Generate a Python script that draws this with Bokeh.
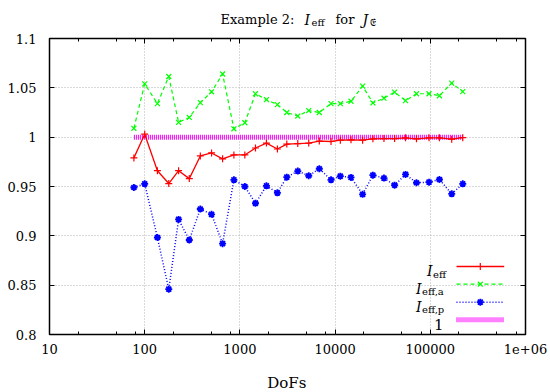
import numpy as np
from bokeh.plotting import figure
from bokeh.layouts import column
from bokeh.models import Range1d, LogAxis, LinearAxis, FixedTicker, Label
from bokeh.embed import file_html
from bokeh.resources import INLINE

# ---------------- data ----------------
dofs = [77, 100, 136, 179, 227, 294, 384, 504, 658, 865, 1127, 1458, 1900, 2477,
        3110, 4055, 5285, 6825, 9060, 11350, 14690, 19450, 24950, 32600, 42170,
        54950, 71600, 97000, 124700, 167900, 219300]
i_eff = [0.979, 1.003, 0.966, 0.953, 0.966, 0.958, 0.981, 0.984, 0.978, 0.982,
         0.982, 0.989, 0.994, 0.988, 0.993, 0.9935, 0.994, 0.996, 0.9956, 0.997,
         0.9973, 0.997, 0.9983, 0.9986, 0.9986, 0.9993, 0.9983, 0.9993, 0.9993,
         0.998, 0.9995]
i_eff_a = [1.009, 1.054, 1.034, 1.0615, 1.015, 1.020, 1.035, 1.046, 1.064, 1.0085,
           1.0146, 1.044, 1.038, 1.033, 1.025, 1.0214, 1.027, 1.025, 1.034, 1.034,
           1.0364, 1.0517, 1.0347, 1.0395, 1.0456, 1.037, 1.044, 1.044, 1.042,
           1.0548, 1.0462]
i_eff_p = [0.949, 0.9527, 0.8983, 0.8459, 0.9166, 0.8958, 0.9272, 0.9218, 0.8921,
           0.9568, 0.95, 0.933, 0.9507, 0.9436, 0.9595, 0.9656, 0.9609, 0.968,
           0.9568, 0.9605, 0.9592, 0.9421, 0.9615, 0.9585, 0.9513, 0.9622, 0.9538,
           0.9544, 0.9571, 0.9426, 0.9527]
one = [1.0] * len(dofs)

x_ticks = [10, 100, 1000, 10000, 100000, 1000000]
x_tick_labels = ["10", "100", "1000", "10000", "100000", "1e+06"]
x_minor = [m * d for d in [10, 100, 1000, 10000, 100000] for m in (2, 5, 8)]
y_ticks = [0.8, 0.85, 0.9, 0.95, 1.0, 1.05, 1.1]
y_tick_labels = ["0.8", "0.85", "0.9", "0.95", "1", "1.05", "1.1"]

# ---------------- layout ----------------
W = 550
HT, HM, HB = 28, 336, 28             # title strip, main plot, x-label strip
FL, FR, FT, FB = 49, 525, 10, 306    # frame inside main plot
X0, X1, Y0, Y1 = 10.0, 1e6, 0.8, 1.1
FONT = "DejaVu Serif"

def fx(px):
    return 10 ** (np.log10(X0) + (px - FL) / (FR - FL) * (np.log10(X1) - np.log10(X0)))

def fy(py):
    return Y1 - (py - FT) / (FB - FT) * (Y1 - Y0)

p = figure(width=W, height=HM, x_axis_type="log", title=None,
           x_range=Range1d(X0, X1), y_range=Range1d(Y0, Y1),
           output_backend="svg", toolbar_location=None,
           min_border_left=FL, min_border_right=W - FR,
           min_border_top=FT, min_border_bottom=HM - FB)
p.background_fill_color = "white"
p.border_fill_color = "white"
p.outline_line_color = "black"
p.outline_line_width = 1.5

xticker = FixedTicker(ticks=x_ticks, minor_ticks=x_minor)
yticker = FixedTicker(ticks=y_ticks, minor_ticks=[])

def style_axis(ax, font=None):
    ax.axis_line_color = None
    ax.major_tick_in = 5
    ax.major_tick_out = 0
    ax.minor_tick_in = 3
    ax.minor_tick_out = 0
    ax.major_tick_line_color = "black"
    ax.minor_tick_line_color = "black"
    if font:
        ax.major_label_text_font = font
        ax.major_label_text_font_size = "13px"
        ax.major_label_text_color = "black"
    else:
        ax.major_label_text_font_size = "1px"
        ax.major_label_text_color = None
        ax.major_label_standoff = 0

top = LogAxis(ticker=xticker)
style_axis(top)
p.add_layout(top, "above")
right = LinearAxis(ticker=yticker)
style_axis(right)
p.add_layout(right, "right")

xa = p.below[0]
xa.ticker = xticker
xa.major_label_overrides = {t: l for t, l in zip(x_ticks, x_tick_labels)}
style_axis(xa, FONT)
xa.major_label_standoff = 9

ya = p.left[0]
ya.ticker = yticker
ya.major_label_overrides = {t: l for t, l in zip(y_ticks, y_tick_labels)}
style_axis(ya, FONT)
ya.major_label_standoff = 13

p.xgrid.ticker = FixedTicker(ticks=x_ticks)
p.ygrid.ticker = yticker
for g in (p.xgrid[0], p.ygrid[0]):
    g.grid_line_color = "#b4b4b4"
    g.grid_line_dash = "1 2"
    g.grid_line_width = 1

RED, GREEN, BLUE, MAG = "#ff0000", "#00ff00", "#0000ff", "#ff00ff"

# ---------------- series ----------------
p.line(dofs, one, color=MAG, line_width=5, line_dash="1 1")
p.line(dofs, i_eff_a, color=GREEN, line_width=1.2, line_dash="4 3")
p.scatter(dofs, i_eff_a, marker="x", size=7, line_color=GREEN, line_width=1.2)
p.line(dofs, i_eff_p, color=BLUE, line_width=1.5, line_dash="1 2")
p.scatter(dofs, i_eff_p, marker="asterisk", size=7, line_color=BLUE, line_width=1.8)
p.line(dofs, i_eff, color=RED, line_width=1.3)
p.scatter(dofs, i_eff, marker="cross", size=7, line_color=RED, line_width=1.2)

# ---------------- legend (drawn by hand, positions in page pixels) ----------------
OFF = HT  # page y -> main-plot y
rows = [266 - OFF, 283.7 - OFF, 301.7 - OFF, 319.3 - OFF]
lx0, lx1, lxm = 456, 503.7, 479.8
styles = [(RED, 1.3, "solid", "cross", 1.2), (GREEN, 1.2, "4 3", "x", 1.2),
          (BLUE, 1.5, "1 2", "asterisk", 1.8)]
for ry, (c, lw, dash, mk, mlw) in zip(rows[:3], styles):
    p.line([fx(lx0), fx(lx1)], [fy(ry), fy(ry)], color=c, line_width=lw, line_dash=dash)
    p.scatter([fx(lxm)], [fy(ry)], marker=mk, size=7, line_color=c, line_width=mlw)
p.line([fx(lx0), fx(lx1)], [fy(rows[3]), fy(rows[3])], color=MAG, line_width=5, line_dash="1 1")

def txt(fig, x, y, s, size="14px", style="normal", align="left", font=FONT):
    fig.add_layout(Label(x=x, y=y, text=s, text_font=font, text_font_size=size,
                         text_font_style=style, text_align=align,
                         text_baseline="alphabetic", text_color="black"))

legend_entries = [("eff", 432), ("eff,a", 421), ("eff,p", 421)]
for ry, (sub, ix) in zip(rows[:3], legend_entries):
    txt(p, fx(ix), fy(ry + 4.5), "I", style="italic", align="right")
    txt(p, fx(ix + 0.5), fy(ry + 7.5), sub, size="10px")
txt(p, fx(443), fy(rows[3] + 5), "1", align="right", size="15px")

# ---------------- title strip and x-label strip ----------------
# (frames of figures in a column are aligned with the main frame: x in page pixels)
def strip(h):
    f = figure(width=W, height=h, title=None, x_range=Range1d(FL, FR), y_range=Range1d(h, 0),
               output_backend="svg", toolbar_location=None, min_border=0,
               min_border_left=FL, min_border_right=W - FR,
               x_axis_location=None, y_axis_location=None)
    f.outline_line_color = None
    f.background_fill_color = "white"
    f.border_fill_color = "white"
    f.xgrid.visible = False
    f.ygrid.visible = False
    return f

ts = strip(HT)
tb = 19
txt(ts, 220, tb, "Example 2:", size="13px")
txt(ts, 304, tb, "I", style="italic")
txt(ts, 311, tb + 3, "eff", size="10px")
txt(ts, 335, tb, "for", size="13px")
txt(ts, 362, tb, "J", style="italic")
txt(ts, 369, tb + 3, "\U0001D508", size="10px")

bs = strip(HB)
txt(bs, 286.3, 382.7 - HT - HM, "DoFs", align="center", size="15px")

layout = column(ts, p, bs, spacing=0)
open("out.html", "w").write(file_html(layout, INLINE))
